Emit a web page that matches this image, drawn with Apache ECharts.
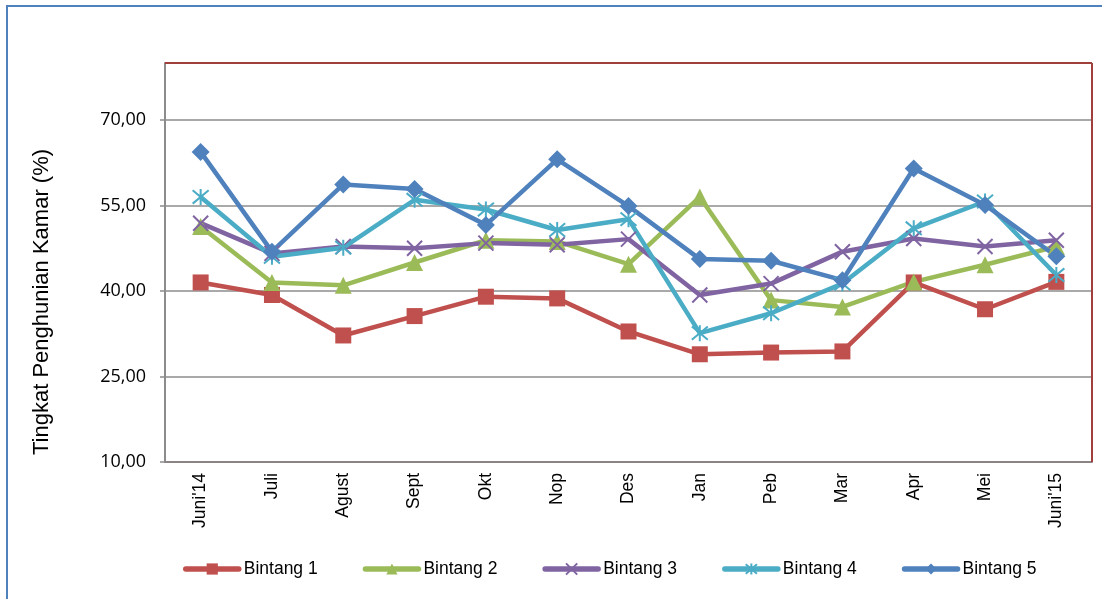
<!DOCTYPE html>
<html>
<head>
<meta charset="utf-8">
<script src="https://cdn.jsdelivr.net/npm/echarts@6/dist/echarts.min.js"></script>
<style>html,body{margin:0;padding:0;background:#fff;}#c{width:1102px;height:599px;}</style>
</head>
<body>
<div id="c"></div>
<script>
var categories = ["Juni'14","Juli","Agust","Sept","Okt","Nop","Des","Jan","Peb","Mar","Apr","Mei","Juni'15"];
var bintang1 = [41.5, 39.3, 32.2, 35.6, 39.0, 38.7, 32.9, 28.9, 29.2, 29.4, 41.5, 36.8, 41.6];
var bintang2 = [51.3, 41.5, 41.0, 45.0, 48.9, 48.7, 44.7, 56.5, 38.4, 37.2, 41.6, 44.6, 47.8];
var bintang3 = [51.9, 46.6, 47.8, 47.5, 48.4, 48.1, 49.1, 39.3, 41.3, 46.9, 49.2, 47.8, 48.9];
var bintang4 = [56.5, 46.0, 47.6, 56.0, 54.3, 50.7, 52.6, 32.6, 36.1, 41.3, 51.0, 55.7, 42.8];
var bintang5 = [64.4, 46.9, 58.7, 57.9, 51.6, 63.1, 54.9, 45.6, 45.3, 41.9, 61.5, 55.1, 46.1];
var seriesNames = ["Bintang 1","Bintang 2","Bintang 3","Bintang 4","Bintang 5"];
var yTicks = {min: 10, max: 80, interval: 15};
var yTitle = "Tingkat Penghunian Kamar (%)";

var colors = ["#C0504D","#9BBB59","#8064A2","#4BACC6","#4F81BD"];
var symbols = [
  'rect',
  'triangle',
  'path://M0,0L10,10M10,0L0,10',
  'path://M0,0L10,10M10,0L0,10M5,-1L5,11',
  'diamond'
];
var sizes = [16, 17, 15, 16, 18];
var dataSets = [bintang1, bintang2, bintang3, bintang4, bintang5];

var GL = 165, GT = 63, GR = 1092, GB = 462;

var series = dataSets.map(function(d, i){
  var stroked = (i === 2 || i === 3);
  return {
    name: seriesNames[i],
    type: 'line',
    data: d,
    symbol: symbols[i],
    symbolSize: sizes[i],
    showAllSymbol: true,
    lineStyle: {color: colors[i], width: 4.5},
    itemStyle: stroked ? {color: colors[i], borderColor: colors[i], borderWidth: 2} : {color: colors[i], borderWidth: 0},
    emphasis: {disabled: true},
    animation: false
  };
});

var chart = echarts.init(document.getElementById('c'), null, {renderer: 'canvas'});
chart.setOption({
  animation: false,
  backgroundColor: '#fff',
  color: colors,
  grid: {left: GL, top: GT, width: GR - GL, height: GB - GT, containLabel: false},
  xAxis: {
    type: 'category',
    data: categories,
    boundaryGap: true,
    axisLine: {show: true, lineStyle: {color: '#8C8484', width: 2}},
    axisTick: {show: false},
    axisLabel: {rotate: 90, margin: 11, color: '#000', fontSize: 17.5, fontFamily: 'Liberation Sans, Arial, sans-serif', interval: 0}
  },
  yAxis: {
    type: 'value',
    min: yTicks.min, max: yTicks.max, interval: yTicks.interval,
    axisLine: {show: true, lineStyle: {color: '#8C8C8C', width: 2}},
    axisTick: {show: true, length: 5, lineStyle: {color: '#8C8C8C', width: 1.5}},
    axisLabel: {
      showMaxLabel: false,
      margin: 19,
      color: '#000', fontSize: 18, fontFamily: 'Open Sans, Liberation Sans, sans-serif',
      formatter: function(v){ return v.toFixed(2).replace('.', ','); }
    },
    splitLine: {show: true, lineStyle: {color: '#8C8C8C', width: 1.5}}
  },
  legend: {
    left: 183, top: 560, padding: 0,
    itemWidth: 53, itemHeight: 14, itemGap: 45,
    lineStyle: {width: 5.5, cap: 'round'},
    textStyle: {color: '#000', fontSize: 17.5, fontFamily: 'Liberation Sans, Arial, sans-serif'},
    data: seriesNames
  },
  graphic: [
    {type: 'rect', shape: {x: 7, y: 6, width: 1300, height: 800}, style: {fill: 'none', stroke: '#4F81BD', lineWidth: 2}, silent: true, z: 100},
    {type: 'line', shape: {x1: GL, y1: GT, x2: GR, y2: GT}, style: {stroke: '#A0403C', lineWidth: 2}, silent: true, z: 100},
    {type: 'line', shape: {x1: GR, y1: GT, x2: GR, y2: GB}, style: {stroke: '#A0403C', lineWidth: 2}, silent: true, z: 100},
    {type: 'text', x: 42, y: 302, rotation: Math.PI/2,
     style: {text: yTitle, fill: '#000', font: '22px "Liberation Sans", Arial, sans-serif', textAlign: 'center', textVerticalAlign: 'middle'}, silent: true, z: 100}
  ],
  series: series
});
</script>
</body>
</html>
